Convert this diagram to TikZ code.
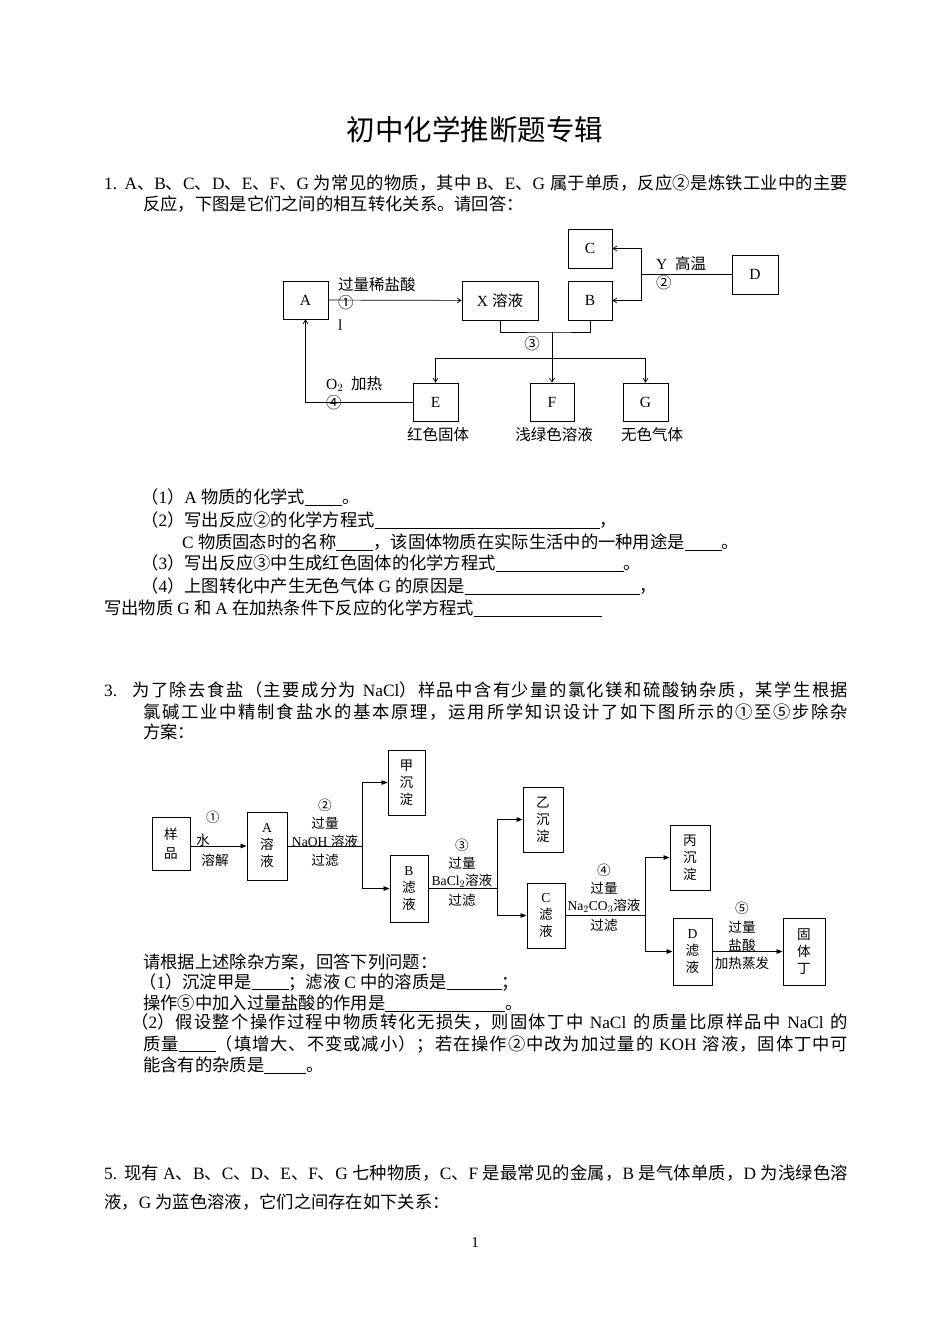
\documentclass[tikz,border=0pt]{standalone}
\usepackage{fontspec}
\usetikzlibrary{arrows.meta}
\setmainfont{Liberation Serif}
\newfontfamily\latinf{Liberation Serif}
\newfontfamily\cjk{Noto Sans CJK SC}
\XeTeXinterchartokenstate=1
\newXeTeXintercharclass\cjkcls
\makeatletter
\def\setcls#1#2{\count@=#1\relax\loop\XeTeXcharclass\count@=\cjkcls\ifnum\count@<#2\advance\count@ 1\repeat}
\setcls{"3000}{"303F}
\setcls{"4E00}{"9FFF}
\setcls{"FF00}{"FFEF}
\setcls{"2460}{"24FF}
\makeatother
\XeTeXinterchartoks 0 \cjkcls = {\cjk}
\XeTeXinterchartoks 4095 \cjkcls = {\cjk}
\XeTeXinterchartoks \cjkcls 0 = {\latinf}
\XeTeXinterchartoks 4095 0 = {\latinf}
\XeTeXinterchartoks \cjkcls \cjkcls = {\hskip 0pt plus 1pt\relax}
\newcommand{\blank}[1]{\rule[-2pt]{#1pt}{0.6pt}}
\newcommand{\jline}[2]{\makebox[#1pt][s]{#2}}
\begin{document}
\begin{tikzpicture}[x=1pt,y=-1pt,
  txt/.style={anchor=west,inner sep=0,font=\fontsize{17.3}{20}\selectfont},
  lab/.style={inner sep=0,font=\fontsize{15.5}{18}\selectfont},
  lab2/.style={inner sep=0,font=\fontsize{13.6}{16}\selectfont},
  bx/.style={draw,line width=0.7pt,inner sep=0,font=\fontsize{15.5}{18}\selectfont},
  vb/.style={draw,line width=0.9pt,inner sep=0,align=center,font=\fontsize{13.6}{17}\selectfont},
  a1/.style={line width=0.7pt,-{Straight Barb[length=4pt,width=5pt]}},
  a2/.style={line width=0.8pt,-{Triangle[length=6pt,width=4.5pt]}},
  ln/.style={line width=0.7pt}]
\fill[white] (0,0) rectangle (950,1342);
\useasboundingbox (0,0) rectangle (950,1342);
\node[inner sep=0,font=\fontsize{28.5}{32}\selectfont] (title) at (475,130) {初中化学推断题专辑};
\node[txt] (q1a) at (104,183) {\jline{744}{1. A、B、C、D、E、F、G 为常见的物质，其中 B、E、G 属于单质，反应②是炼铁工业中的主要}};
\node[txt] (q1b) at (143,204) {反应，下图是它们之间的相互转化关系。请回答：};
% diagram 1
\node[bx,minimum width=45pt,minimum height=38pt] (A) at (305.5,300) {A};
\node[bx,minimum width=76pt,minimum height=39pt] (X) at (500,300.5) {X 溶液};
\node[bx,minimum width=44pt,minimum height=39pt] (B) at (590,300.5) {B};
\node[bx,minimum width=44pt,minimum height=39pt] (C) at (590,248.5) {C};
\node[bx,minimum width=46pt,minimum height=39pt] (D) at (755,274.5) {D};
\node[bx,minimum width=45pt,minimum height=38pt] (E) at (435.5,402) {E};
\node[bx,minimum width=44pt,minimum height=38pt] (F) at (552,402) {F};
\node[bx,minimum width=45pt,minimum height=38pt] (G) at (645.5,402) {G};
\draw[a1] (A) -- (X);
\node[lab,anchor=west] (l1) at (338,285) {过量稀盐酸};
\node[lab,anchor=west] (l1n) at (338,303) {①};
\node[lab,anchor=west] (l1l) at (338,325) {l};
\coordinate (j2) at (641,274.5);
\draw[ln] (D.west) -- (j2);
\draw[a1] (j2) |- (C.east);
\draw[a1] (j2) |- (B.east);
\node[lab,anchor=west] (l2) at (656,264) {Y\ \ 高温};
\node[lab,anchor=west] (l2n) at (656,283) {②};
\coordinate (m3) at (552,332);
\draw[ln] (X.south) |- (m3) -| (B.south);
\draw[a1] (m3) -- (F.north);
\coordinate (h3) at (552,358);
\draw[a1] (h3) -| (E.north);
\draw[a1] (h3) -| (G.north);
\node[lab] (l3n) at (532,344) {③};
\draw[a1] (E.west) -| (A.south);
\node[lab,anchor=west] (l4) at (326,384) {O$_2$\ \ 加热};
\node[lab,anchor=west] (l4n) at (326,403) {④};
\node[lab] (le) at (438,435) {红色固体};
\node[lab] (lf) at (554,435) {浅绿色溶液};
\node[lab] (lg) at (652,435) {无色气体};
% questions 1
\node[txt] (q11) at (141,497) {（1）A 物质的化学式\blank{37}。};
\node[txt] (q12) at (141,520) {（2）写出反应②的化学方程式\blank{225}，};
\node[txt] (q13) at (182,542) {C 物质固态时的名称\blank{37}，该固体物质在实际生活中的一种用途是\blank{37}。};
\node[txt] (q14) at (141,563) {（3）写出反应③中生成红色固体的化学方程式\blank{128}。};
\node[txt] (q15) at (141,586) {（4）上图转化中产生无色气体 G 的原因是\blank{175}，};
\node[txt] (q16) at (104,608) {写出物质 G 和 A 在加热条件下反应的化学方程式\blank{128}};
% question 3
\node[txt] (q3a) at (104,690) {\jline{744}{3. 为了除去食盐（主要成分为 NaCl）样品中含有少量的氯化镁和硫酸钠杂质，某学生根据}};
\node[txt] (q3b) at (143,712) {\jline{705}{氯碱工业中精制食盐水的基本原理，运用所学知识设计了如下图所示的①至⑤步除杂}};
\node[txt] (q3c) at (143,732) {方案：};
% diagram 2
\node[vb,minimum width=38pt,minimum height=53pt] (S) at (171,843.5) {样\\[2pt]品};
\node[vb,minimum width=40pt,minimum height=68pt] (SA) at (267,846) {A\\溶\\液};
\node[vb,minimum width=37pt,minimum height=65pt] (J) at (406.5,782.5) {甲\\沉\\淀};
\node[vb,minimum width=38pt,minimum height=67pt] (SB) at (409,888.5) {B\\滤\\液};
\node[vb,minimum width=40pt,minimum height=65pt] (Y) at (543,819.5) {乙\\沉\\淀};
\node[vb,minimum width=38pt,minimum height=65pt] (SC) at (546,915.5) {C\\滤\\液};
\node[vb,minimum width=40pt,minimum height=65pt] (P) at (690,857.5) {丙\\沉\\淀};
\node[vb,minimum width=39pt,minimum height=67pt] (SD) at (692.5,951.5) {D\\滤\\液};
\node[vb,minimum width=42pt,minimum height=67pt] (T) at (804,951.5) {固\\体\\丁};
\draw[a2] (S.east |- 0,846) -- (SA.west);
\node[lab2] (s1) at (213,817) {①};
\node[lab2,anchor=west] (s1a) at (196,840) {水};
\node[lab2] (s1b) at (215,860) {溶解};
\coordinate (k2) at (362,846);
\draw[ln] (SA.east) -- (k2);
\draw[a2] (k2) |- (J.west);
\draw[a2] (k2) |- (SB.west);
\node[lab2] (s2) at (325,805) {②};
\node[lab2] (s2a) at (325,823) {过量};
\node[lab2] (s2b) at (325,841) {NaOH 溶液};
\node[lab2] (s2c) at (325,860) {过滤};
\coordinate (k3) at (497,888.5);
\draw[ln] (SB.east) -- (k3);
\draw[a2] (k3) |- (Y.west);
\draw[a2] (k3) |- (SC.west);
\node[lab2] (s3) at (462,845) {③};
\node[lab2] (s3a) at (462,863) {过量};
\node[lab2] (s3b) at (462,881) {BaCl$_2$溶液};
\node[lab2] (s3c) at (462,900) {过滤};
\coordinate (k4) at (645,915.5);
\draw[ln] (SC.east) -- (k4);
\draw[a2] (k4) |- (P.west);
\draw[a2] (k4) |- (SD.west);
\node[lab2] (s4) at (604,870) {④};
\node[lab2] (s4a) at (604,888) {过量};
\node[lab2] (s4b) at (604,906) {Na$_2$CO$_3$溶液};
\node[lab2] (s4c) at (604,925) {过滤};
\draw[a2] (SD.east) -- (T.west);
\node[lab2] (s5) at (742,908) {⑤};
\node[lab2] (s5a) at (742,927) {过量};
\node[lab2] (s5b) at (742,945) {盐酸};
\node[lab2] (s5c) at (742,963) {加热蒸发};
% questions 3
\node[txt] (q31) at (143,962) {请根据上述除杂方案，回答下列问题：};
\node[txt] (q32) at (139,982) {（1）沉淀甲是\blank{37}；滤液 C 中的溶质是\blank{55}；};
\node[txt] (q33) at (143,1003) {操作⑤中加入过量盐酸的作用是\blank{120}。};
\node[txt] (q34) at (131,1022) {\jline{717}{（2）假设整个操作过程中物质转化无损失，则固体丁中 NaCl 的质量比原样品中 NaCl 的}};
\node[txt] (q35) at (143,1044) {\jline{705}{质量\blank{37}（填增大、不变或减小）；若在操作②中改为加过量的 KOH 溶液，固体丁中可}};
\node[txt] (q36) at (143,1065) {能含有的杂质是\blank{42}。};
% question 5
\node[txt] (q5a) at (104,1173) {\jline{744}{5. 现有 A、B、C、D、E、F、G 七种物质，C、F 是最常见的金属，B 是气体单质，D 为浅绿色溶}};
\node[txt] (q5b) at (104,1202) {液，G 为蓝色溶液，它们之间存在如下关系：};
\node[inner sep=0,font=\fontsize{15}{16}\selectfont] (pg) at (475,1243) {1};
\end{tikzpicture}
\end{document}
